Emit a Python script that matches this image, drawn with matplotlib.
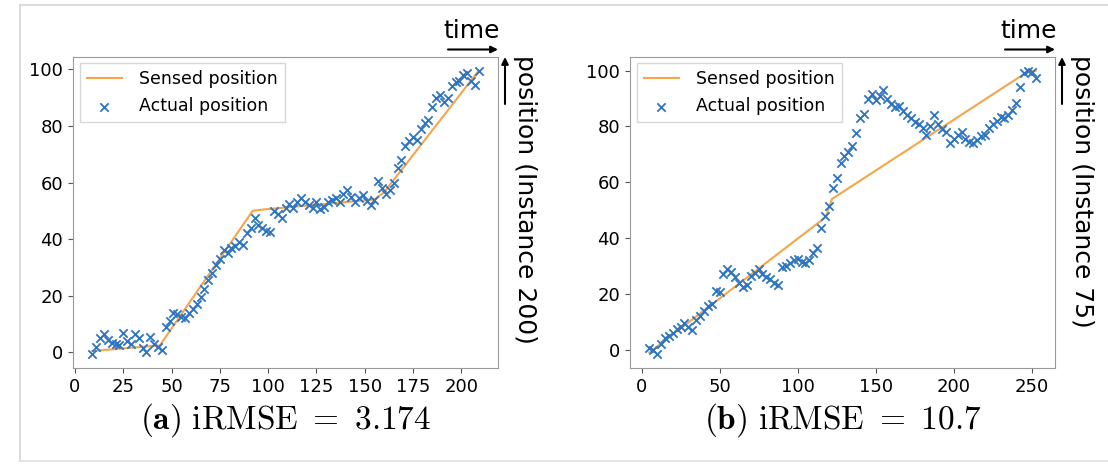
import matplotlib
matplotlib.use('Agg')
import matplotlib.pyplot as plt
from matplotlib.lines import Line2D

plt.rcParams['mathtext.fontset'] = 'cm'

# (a) instance 200
x_a = [9, 11, 13, 15, 17, 19, 21, 23, 25, 27, 29, 31, 33, 35, 37, 39, 41, 43, 45, 47,
       49, 51, 53, 55, 57, 59, 61, 63, 65, 67, 69, 71, 73, 75, 77, 79, 81, 83, 85, 87,
       89, 91, 93, 95, 97, 99, 101, 103, 105, 107, 109, 111, 113, 115, 117, 119, 121, 123, 125, 127,
       129, 131, 133, 135, 137, 139, 141, 143, 145, 147, 149, 151, 153, 155, 157, 159, 161, 163, 165, 167,
       169, 171, 173, 175, 177, 179, 181, 183, 185, 187, 189, 191, 193, 195, 197, 199, 201, 203, 205, 207, 209]
y_a = [-0.5, 2.0, 5.0, 6.5, 4.5, 3.5, 3.0, 2.5, 7.0, 4.0, 3.0, 6.5, 5.0, 1.5, 0.0, 5.5, 3.0, 2.0, 1.0, 9.0,
       11.0, 14.0, 13.5, 12.5, 12.0, 14.0, 15.5, 17.0, 19.5, 22.5, 25.5, 28.0, 31.0, 33.0, 36.0, 35.0, 37.0, 37.5, 39.0, 38.0,
       42.0, 44.0, 47.5, 45.0, 44.0, 43.0, 42.5, 50.0, 49.0, 47.5, 51.0, 52.5, 51.0, 53.0, 54.5, 53.0, 52.0, 51.0, 53.0, 50.5,
       51.5, 53.0, 54.0, 54.5, 53.0, 56.0, 57.5, 55.0, 53.0, 54.5, 55.5, 53.5, 52.0, 54.0, 60.5, 58.0, 56.0, 57.5, 60.0, 65.0,
       68.0, 73.0, 74.5, 76.0, 75.0, 79.0, 81.0, 82.0, 86.5, 90.0, 91.0, 88.5, 90.0, 94.0, 95.5, 96.0, 98.0, 98.5, 96.0, 94.5, 99.5]
sensed_x_a = [9, 44, 92, 98, 155, 160, 209]
sensed_y_a = [0.5, 2.5, 50.0, 50.5, 54.0, 56.5, 99.5]

# (b) instance 75
x_b = [5, 7.5, 10, 12.5, 15, 17.5, 20, 22.5, 25, 27.5, 30, 32.5, 35, 37.5, 40, 42.5, 45, 47.5, 50, 52.5,
       55, 57.5, 60, 62.5, 65, 67.5, 70, 72.5, 75, 77.5, 80, 82.5, 85, 87.5, 90, 92.5, 95, 97.5, 100, 102.5,
       105, 107.5, 110, 112.5, 115, 117.5, 120, 122.5, 125, 127.5, 130, 132.5, 135, 137.5, 140, 142.5, 145, 147.5, 150, 152.5,
       155, 157.5, 160, 162.5, 165, 167.5, 170, 172.5, 175, 177.5, 180, 182.5, 185, 187.5, 190, 192.5, 195, 197.5, 200, 202.5,
       205, 207.5, 210, 212.5, 215, 217.5, 220, 222.5, 225, 227.5, 230, 232.5, 235, 237.5, 240, 242.5, 245, 247.5, 250, 252.5]
y_b = [0.5, 0.0, -1.5, 2.0, 4.0, 5.0, 6.0, 7.5, 8.0, 9.5, 8.0, 7.0, 10.5, 12.0, 14.0, 15.5, 16.5, 21.0, 20.5, 27.0,
       29.0, 28.0, 26.0, 24.0, 22.5, 23.0, 26.5, 27.5, 29.0, 27.0, 26.0, 25.5, 24.0, 23.0, 29.5, 30.0, 31.0, 32.0, 32.5, 31.5,
       31.0, 32.0, 34.5, 36.5, 43.5, 48.0, 51.5, 58.0, 61.5, 67.0, 69.5, 71.0, 73.0, 77.5, 83.0, 84.5, 90.0, 91.5, 89.5, 91.0,
       93.0, 90.0, 88.0, 87.0, 87.5, 85.5, 84.0, 83.0, 81.5, 81.0, 79.5, 77.0, 80.0, 84.0, 81.0, 79.0, 78.0, 74.0, 75.5, 77.0,
       78.0, 75.5, 74.5, 74.0, 75.0, 76.5, 77.0, 79.5, 81.0, 82.0, 83.5, 83.0, 84.0, 86.0, 88.5, 94.0, 99.0, 100.0, 99.5, 97.5]
sensed_x_b = [5, 118, 122, 247, 252.5]
sensed_y_b = [-1.0, 47.5, 54.0, 99.5, 100.0]

panels = [
    (x_a, y_a, sensed_x_a, sensed_y_a, [0, 25, 50, 75, 100, 125, 150, 175, 200],
     'position (Instance 200)', r'$\mathbf{(a)}\ \mathrm{iRMSE}\ =\ 3.174$'),
    (x_b, y_b, sensed_x_b, sensed_y_b, [0, 50, 100, 150, 200, 250],
     'position (Instance 75)', r'$\mathbf{(b)}\ \mathrm{iRMSE}\ =\ 10.7$'),
]

W, H = 1108, 466
fig = plt.figure(figsize=(W / 100, H / 100), dpi=100)

# light frame of the original screenshot
fig.add_artist(Line2D([20 / W, 20 / W], [1 - 5 / H, 1 - 461 / H], transform=fig.transFigure,
                      color='#d4d4d4', lw=1.2))
fig.add_artist(Line2D([20 / W, 1], [1 - 5 / H, 1 - 5 / H], transform=fig.transFigure,
                      color='#d4d4d4', lw=1.2))
fig.add_artist(Line2D([20 / W, 1], [1 - 461 / H, 1 - 461 / H], transform=fig.transFigure,
                      color='#e0e0e0', lw=1.2))

lefts = [73, 630]
width_px = 425
top_px, bottom_px = 56.5, 368

for (xs, ys, sx, sy, xticks, ylab, cap), lp in zip(panels, lefts):
    ax = fig.add_axes([lp / W, 1 - bottom_px / H, width_px / W, (bottom_px - top_px) / H])
    ax.plot(sx, sy, color='#f5a54a', lw=1.5, label='Sensed position', zorder=2)
    ax.scatter(xs, ys, marker='x', s=36, linewidths=1.3, color='#2f74c0',
               label='Actual position', zorder=3)
    ax.set_xticks(xticks)
    ax.set_yticks([0, 20, 40, 60, 80, 100])
    ax.tick_params(labelsize=13, direction='out', length=3.5, color='#555555')
    for sp in ax.spines.values():
        sp.set_color('#9a9a9a')
    leg = ax.legend(loc='upper left', fontsize=12.5, frameon=True, fancybox=False,
                    borderaxespad=0.4, handletextpad=1.0)
    leg.get_frame().set_edgecolor('#cccccc')

    rp = lp + width_px
    # time arrow above the axes
    fig.text((rp + 2) / W, 1 - 38 / H, 'time', fontsize=18, ha='right', va='baseline')
    ax.annotate('', xy=(rp / W, 1 - 49.5 / H), xytext=((rp - 50) / W, 1 - 49.5 / H),
                xycoords='figure fraction', textcoords='figure fraction',
                arrowprops=dict(arrowstyle='-|>', lw=1.5, color='black',
                                mutation_scale=10, shrinkA=0, shrinkB=0))
    # position arrow right of the axes
    ax.annotate('', xy=((rp + 7) / W, 1 - 57 / H), xytext=((rp + 7) / W, 1 - 104 / H),
                xycoords='figure fraction', textcoords='figure fraction',
                arrowprops=dict(arrowstyle='-|>', lw=1.5, color='black',
                                mutation_scale=10, shrinkA=0, shrinkB=0))
    fig.text((rp + 27) / W, 1 - 55 / H, ylab, fontsize=18, rotation=-90,
             ha='center', va='top')
    fig.text((lp + width_px / 2) / W, 1 - 420 / H, cap, fontsize=24,
             ha='center', va='center')

fig.savefig('out.png', dpi=100)
